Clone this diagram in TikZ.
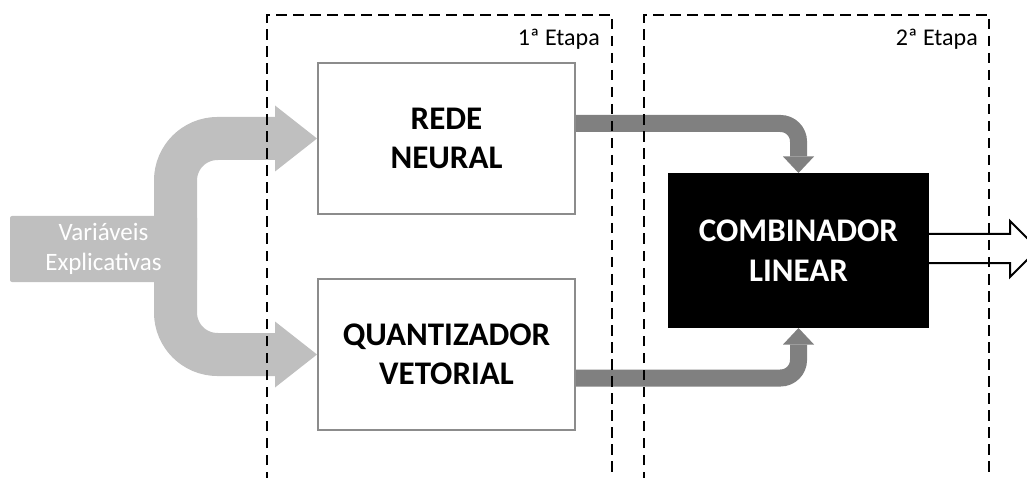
\documentclass[tikz,border=0pt]{standalone}
\usepackage{fontspec}
\setmainfont{Carlito}
\usetikzlibrary{arrows.meta}

\definecolor{cinzaclaro}{RGB}{191,191,191}
\definecolor{cinzaescuro}{RGB}{128,128,128}
\definecolor{contorno}{RGB}{140,140,140}

\tikzset{
    bloco/.style={draw=contorno, line width=2pt, fill=white, minimum width=257pt,
        minimum height=151pt, align=center, font=\fontsize{33}{39}\selectfont\bfseries},
    entradaseta/.style={draw=cinzaclaro, line width=43pt, rounded corners=42pt,
        -{Triangle[length=42pt, width=66pt, line width=0pt]}},
    ligacao/.style={draw=cinzaescuro, line width=17pt, rounded corners=18pt,
        -{Triangle[length=16.5pt, width=31pt, line width=0pt]}},
    etapa/.style={draw=black, line width=2.8pt, dash pattern=on 10.5pt off 6.5pt},
    rotulo/.style={inner sep=0pt, anchor=base east, font=\fontsize{24}{29}\selectfont}
}

\begin{document}
\begin{tikzpicture}[x=1pt, y=1pt]
    \useasboundingbox (0, 0) rectangle (1027, 477);
    \clip (0, 0) rectangle (1027, 477);

    % draw the two blocks of the first stage and the combiner
    \node[bloco] (rede) at (446.5, 338.5) {REDE\\NEURAL};
    \node[bloco] (quant) at (446.5, 122.5) {QUANTIZADOR\\VETORIAL};
    \node[bloco, draw=black, fill=black, text=white, minimum width=259pt,
        minimum height=153pt, font=\fontsize{33}{40}\selectfont\bfseries]
        (comb) at (798.5, 226.5) {COMBINADOR\\LINEAR};

    % draw the input fork
    \coordinate (bifurca) at (175.5, 228);
    \draw[entradaseta] (bifurca) |- (rede.west);
    \draw[entradaseta] (bifurca) |- (quant.west);
    \node[fill=cinzaclaro, text=white, rounded corners=2pt, minimum width=187pt,
        minimum height=66pt, align=center, font=\fontsize{25}{30}\selectfont]
        (entrada) at (103.5, 228) {Variáveis\\Explicativas};

    % draw links to the combiner
    \draw[ligacao] ([yshift=15]rede.east) -| (comb.north);
    \draw[ligacao] ([yshift=-23.5]quant.east) -| (comb.south);

    % draw output arrow
    \draw[draw=black, fill=white, line width=2pt] ([yshift=16.5]comb.east) -- ++(81, 0)
        -- ++(0, 13) -- ++(28, -28) -- ++(-28, -28) -- ++(0, 14) -- ([yshift=-12.5]comb.east);

    % draw dashed stage frames
    \draw[etapa] (267, -5) |- (612, 462) -- (612, -5);
    \draw[etapa] (644, -5) |- (989, 462) -- (989, -5);
    \node[rotulo] (etapa1) at (600, 431) {1ª Etapa};
    \node[rotulo] (etapa2) at (978, 431) {2ª Etapa};
\end{tikzpicture}
\end{document}
